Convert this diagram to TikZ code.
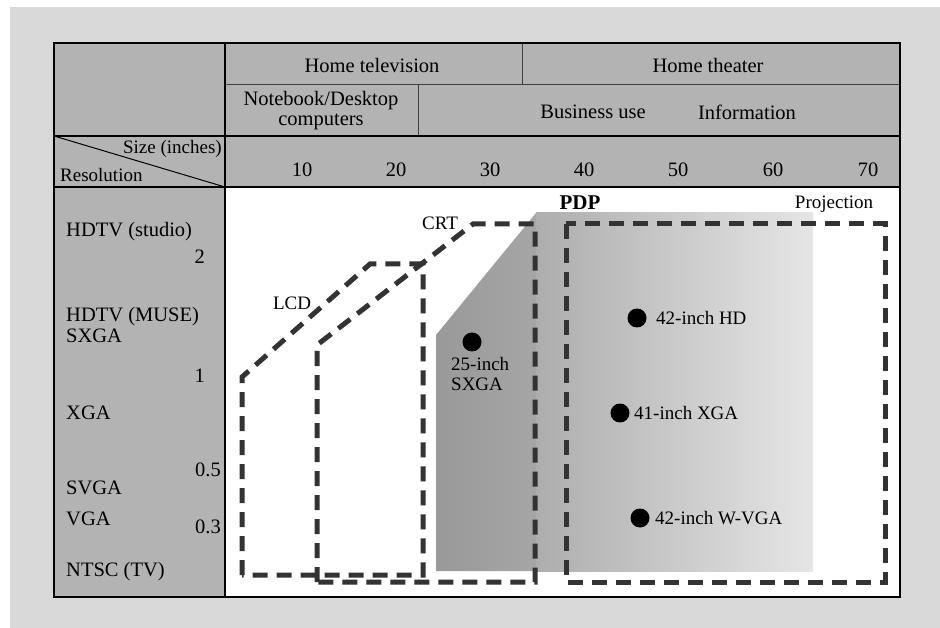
\documentclass[tikz,border=0pt]{standalone}
\usepackage{fontspec}
\setmainfont{Liberation Serif}
\definecolor{bgc}{HTML}{D9D9D9}
\definecolor{cellc}{HTML}{B3B3B3}
\definecolor{dashc}{HTML}{333333}
\begin{document}
\begin{tikzpicture}[x=1pt,y=-1pt,
  hdr/.style={font=\fontsize{20.5}{20}\selectfont, inner sep=0pt},
  lbl/.style={font=\fontsize{19}{20}\selectfont, inner sep=0pt},
  dsh/.style={draw=dashc, line width=5pt, dash pattern=on 15pt off 9pt},
  dotm/.style={circle, fill=black, minimum size=19pt, inner sep=0pt},
  thin/.style={draw=black!75, line width=0.8pt},
  thick/.style={draw=black, line width=1.4pt}
]
\useasboundingbox (0,0) rectangle (940,628);
\fill[white] (0,0) rectangle (940,628);
\fill[bgc] (10,7) rectangle (940,628);
% table
\fill[cellc] (54,43) rectangle (900,187);
\fill[cellc] (54,187) rectangle (225,597);
\fill[white] (225,187) rectangle (900,597);
% PDP region
\shade[left color=black!40, right color=black!35] (436,571) -- (436,335) -- (536,213) -- (536,571) -- cycle;
\shade[left color=black!32, right color=black!10] (536,213) rectangle (813,571);
% dashed outlines
\coordinate (l1) at (242,575); \coordinate (l2) at (242,377); \coordinate (l3) at (370,264); \coordinate (l4) at (423,264); \coordinate (l5) at (423,575);
\draw[dsh] (l1) -- (l2) -- (l3) -- (l4) -- (l5) -- cycle;
\coordinate (c1) at (317,582); \coordinate (c2) at (317,345); \coordinate (c3) at (473,224); \coordinate (c4) at (535,224); \coordinate (c5) at (535,582);
\draw[dsh] (c1) -- (c2) -- (c3) -- (c4) -- (c5) -- cycle;
\coordinate (p1) at (566,224); \coordinate (p2) at (885,582);
\draw[dsh] (p1) rectangle (p2);
% table lines
\draw[thin] (225,84) -- (900,84);
\draw[thin] (522,43) -- (522,84);
\draw[thin] (418,84) -- (418,136);
\draw[thick] (54,136) -- (900,136);
\draw[thick] (54,187) -- (900,187);
\draw[thick] (225,43) -- (225,597);
\draw[line width=1pt] (54,136) -- (225,187);
\draw[thick] (54,43) rectangle (900,597);
% header text
\node[hdr] (ht) at (372,65) {Home television};
\node[hdr] (hth) at (708,65) {Home theater};
\node[hdr, align=center] (nb) at (321,111) {Notebook/Desktop\\computers};
\node[hdr] (bu) at (593,112) {Business use};
\node[hdr] (inf) at (747,112) {Information};
\node[lbl, anchor=east] (sz) at (222,149) {Size (inches)};
\node[lbl, anchor=west] (res) at (60,175) {Resolution};
\node[hdr] (n10) at (302,170) {10};
\node[hdr] (n20) at (396,170) {20};
\node[hdr] (n30) at (490,170) {30};
\node[hdr] (n40) at (584,170) {40};
\node[hdr] (n50) at (678,170) {50};
\node[hdr] (n60) at (773,170) {60};
\node[hdr] (n70) at (868,170) {70};
% left column
\node[hdr, anchor=west] (r1) at (66,232) {HDTV (studio)};
\node[hdr, anchor=east] (v2) at (205,257) {2};
\node[hdr, anchor=west] (r2) at (66,317) {HDTV (MUSE)};
\node[hdr, anchor=west] (r3) at (66,336) {SXGA};
\node[hdr, anchor=east] (v1) at (205,376) {1};
\node[hdr, anchor=west] (r4) at (66,413) {XGA};
\node[hdr, anchor=east] (v05) at (221,470) {0.5};
\node[hdr, anchor=west] (r5) at (66,488) {SVGA};
\node[hdr, anchor=west] (r6) at (66,519) {VGA};
\node[hdr, anchor=east] (v03) at (221,527) {0.3};
\node[hdr, anchor=west] (r7) at (66,572) {NTSC (TV)};
% body labels
\node[lbl] (lcd) at (292,303) {LCD};
\node[lbl] (crt) at (440,223) {CRT};
\node[font=\fontsize{21}{22}\selectfont\bfseries, inner sep=0pt] (pdp) at (580,203) {PDP};
\node[lbl] (proj) at (834,204) {Projection};
\node[dotm] (d25) at (472,342) {};
\node[lbl, anchor=west] (t25a) at (451,364) {25-inch};
\node[lbl, anchor=west] (t25b) at (451,384) {SXGA};
\node[dotm] (d42) at (637,318) {};
\node[lbl, anchor=west] (t42) at (656,318) {42-inch HD};
\node[dotm] (d41) at (620,413) {};
\node[lbl, anchor=west] (t41) at (634,413) {41-inch XGA};
\node[dotm] (dw) at (640,518) {};
\node[lbl, anchor=west] (tw) at (655,518) {42-inch W-VGA};
\end{tikzpicture}
\end{document}
